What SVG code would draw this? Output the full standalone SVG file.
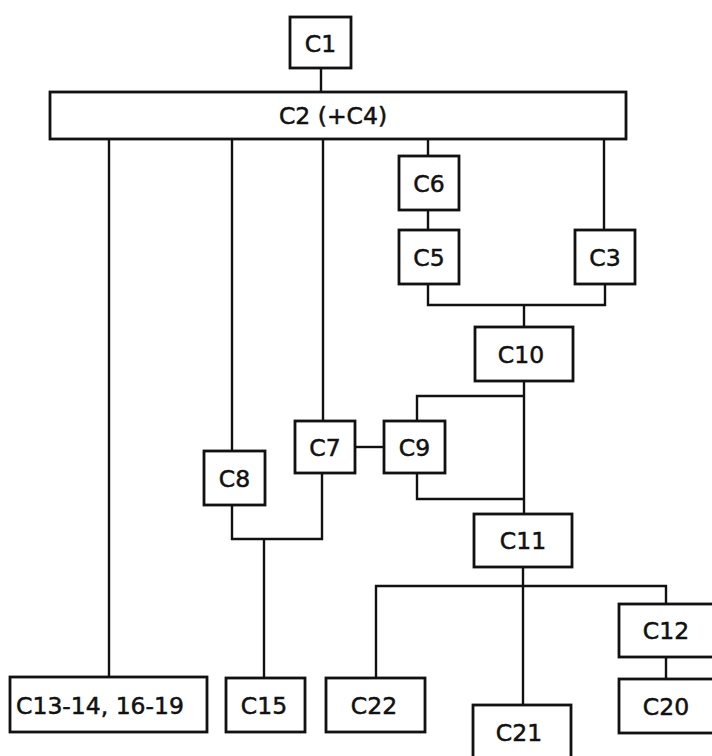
<svg xmlns="http://www.w3.org/2000/svg" width="712" height="756" viewBox="0 0 712 756">
<style>
.box{fill:#fff;stroke:#111;stroke-width:2.8}
.lbl{font-family:"DejaVu Sans",sans-serif;font-size:23.5px;fill:#111;stroke:#111;stroke-width:0.5;text-anchor:middle}
.con{fill:none;stroke:#111;stroke-width:2.4}
</style>
<rect x="0" y="0" width="712" height="756" fill="#fff"/>
<g id="connectors">
<path class="con" d="M321 68V92"/>
<path class="con" d="M109 139V677"/>
<path class="con" d="M232 139V451"/>
<path class="con" d="M323 139V421"/>
<path class="con" d="M428 139V156M428 210V230"/>
<path class="con" d="M604 139V230"/>
<path class="con" d="M428 284V305H605V284M524 305V327"/>
<path class="con" d="M524 381V514"/>
<path class="con" d="M524 396H417V421M417 473V499H524"/>
<path class="con" d="M355 447H384"/>
<path class="con" d="M232 505V539H322V473M264 539V678"/>
<path class="con" d="M523 567V705"/>
<path class="con" d="M376 678V586H666V604M666 657V679"/>
</g>
<g id="C1"><rect class="box" x="290" y="17" width="61" height="51"/><text class="lbl" x="320.5" y="52">C1</text></g>
<g id="C2"><rect class="box" x="50" y="92" width="576" height="47"/><text class="lbl" x="333" y="124">C2 (+C4)</text></g>
<g id="C6"><rect class="box" x="399" y="156" width="60" height="54"/><text class="lbl" x="429" y="192">C6</text></g>
<g id="C5"><rect class="box" x="399" y="230" width="60" height="54"/><text class="lbl" x="429" y="266">C5</text></g>
<g id="C3"><rect class="box" x="575" y="230" width="60" height="54"/><text class="lbl" x="605" y="266">C3</text></g>
<g id="C10"><rect class="box" x="475" y="327" width="98" height="54"/><text class="lbl" x="521" y="363">C10</text></g>
<g id="C7"><rect class="box" x="295" y="421" width="60" height="52"/><text class="lbl" x="325" y="456">C7</text></g>
<g id="C9"><rect class="box" x="384" y="421" width="61" height="52"/><text class="lbl" x="414.5" y="456">C9</text></g>
<g id="C8"><rect class="box" x="204" y="451" width="61" height="54"/><text class="lbl" x="234.5" y="487">C8</text></g>
<g id="C11"><rect class="box" x="474" y="514" width="98" height="53"/><text class="lbl" x="523" y="549">C11</text></g>
<g id="C12"><rect class="box" x="619" y="604" width="96" height="53"/><text class="lbl" x="666" y="639">C12</text></g>
<g id="C20"><rect class="box" x="619" y="679" width="96" height="54"/><text class="lbl" x="666" y="715">C20</text></g>
<g id="C13-19"><rect class="box" x="10" y="677" width="197" height="55"/><text class="lbl" x="100" y="714">C13-14, 16-19</text></g>
<g id="C15"><rect class="box" x="226" y="678" width="79" height="54"/><text class="lbl" x="264" y="714">C15</text></g>
<g id="C22"><rect class="box" x="326" y="678" width="99" height="54"/><text class="lbl" x="374" y="714">C22</text></g>
<g id="C21"><rect class="box" x="473" y="705" width="98" height="60"/><text class="lbl" x="519" y="741">C21</text></g>
</svg>
